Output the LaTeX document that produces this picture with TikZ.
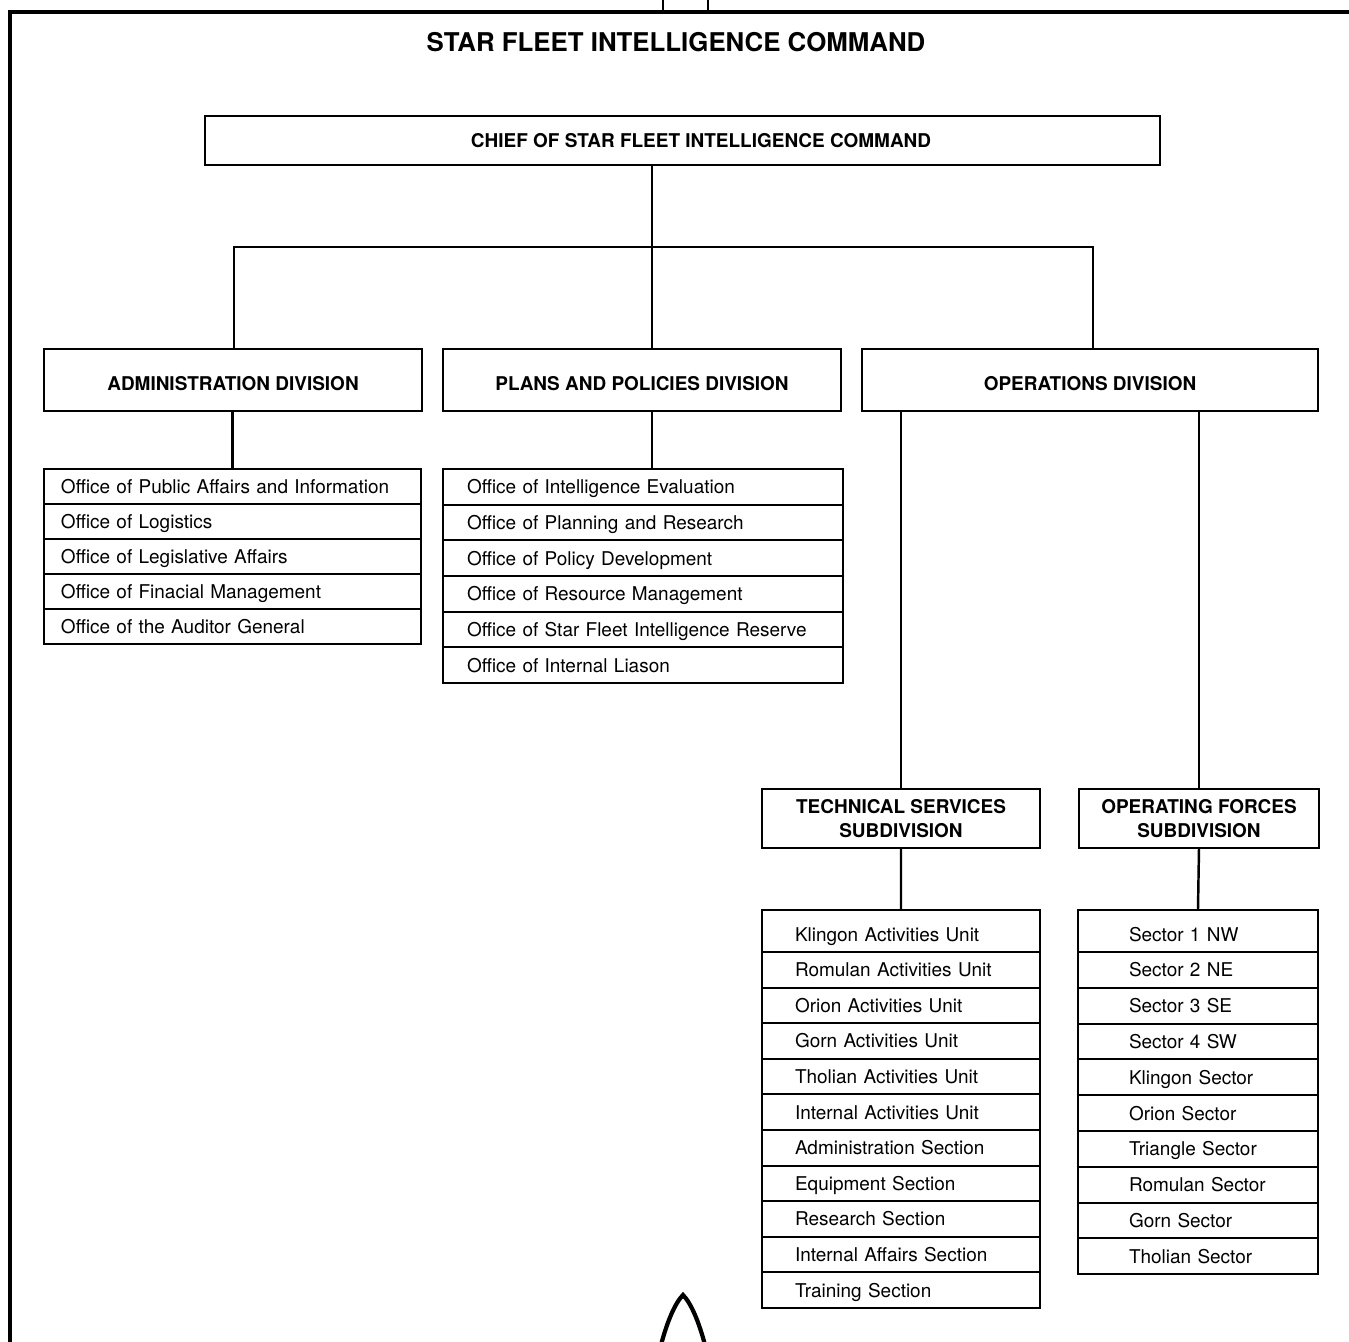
\documentclass[tikz,border=0pt]{standalone}
\usepackage{fontspec}
\setmainfont{TeX Gyre Heros}
\usetikzlibrary{positioning}
\newcommand{\corpo}{\fontsize{10.8}{13.6}\selectfont}
\newcommand{\titolo}{\fontsize{14.7}{17}\selectfont\bfseries}
\tikzset{
	% riquadro di divisione / sottodivisione
	divisione/.style={draw, line width=1.4pt, rectangle, minimum height=1.24cm, inner sep=0pt,
	                  outer sep=0pt, align=center, font=\corpo\bfseries},
	% testo di una sola riga, un poco piu' in basso
	unariga/.style={text height=12.4pt, text depth=0pt},
	% riga di un elenco (uffici, unita', settori)
	riga/.style={draw, line width=1.2pt, rectangle, anchor=north west, minimum height=0.7cm,
	             inner ysep=0pt, outer sep=0pt, text height=2.1ex, text depth=0.6ex, align=left,
	             font=\corpo},
	prima/.style={minimum height=0.84cm, text height=2.9ex},
	rigaamm/.style={riga, text width=6.86cm, inner xsep=0.34cm},
	rigapiani/.style={riga, text width=7.04cm, inner xsep=0.48cm, minimum height=0.7133cm},
	rigatecn/.style={riga, text width=4.24cm, inner xsep=0.66cm, minimum height=0.712cm},
	rigaforze/.style={riga, text width=2.76cm, inner xsep=1.02cm, minimum height=0.716cm},
	% collegamento
	filo/.style={line width=1.4pt},
	% cornice della tavola
	cornice/.style={line width=2.6pt},
}

\begin{document}
\begin{tikzpicture}[x=0.02cm, y=-0.02cm]
    \useasboundingbox (0,0) rectangle (1349,1342);

    % ---------------- cornice ----------------
    \draw[cornice] (10,1342) -- (10,12) -- (1349,12);
    \draw[line width=1.6pt] (663,0) -- (663,12) (708,0) -- (708,12);
    \draw[line width=2.4pt, line join=miter] (661,1345) .. controls (667,1322) and (675,1303) .. (683,1295)
        .. controls (691,1303) and (699,1322) .. (705,1345);

    % ---------------- vertice ----------------
    \node[font=\titolo] (titolo) at (676,42) {STAR FLEET INTELLIGENCE COMMAND};
    \node[divisione, minimum width=19.1cm, minimum height=0.98cm] (capo) at (682.5,140.5) {};
    \node[font=\corpo\bfseries] (capotesto) at (701,141) {CHIEF OF STAR FLEET INTELLIGENCE COMMAND};

    % ---------------- divisioni ----------------
    \node[divisione, unariga, minimum width=7.56cm] (amm) at (233,380) {ADMINISTRATION DIVISION};
    \node[divisione, unariga, minimum width=7.96cm] (piani) at (642,380) {PLANS AND POLICIES DIVISION};
    \node[divisione, unariga, minimum width=9.12cm] (oper) at (1090,380) {OPERATIONS DIVISION};

    \coordinate (busS) at (234,247);
    \coordinate (busC) at (652,247);
    \coordinate (busD) at (1093,247);
    \draw[filo] (capo.south -| busC) -- (busC);
    \draw[filo] (amm.north -| busS) -- (busS) -- (busD) -- (busD |- oper.north);
    \draw[filo] (busC) -- (busC |- piani.north);

    % ---------------- administration ----------------
    \node[rigaamm] (a1) at (44,469) {Office of Public Affairs and Information};
    \node[rigaamm] (a2) at (44,504) {Office of Logistics};
    \node[rigaamm] (a3) at (44,539) {Office of Legislative Affairs};
    \node[rigaamm] (a4) at (44,574) {Office of Finacial Management};
    \node[rigaamm] (a5) at (44,609) {Office of the Auditor General};
    \draw[filo] (amm.south -| a1.north) -- (a1.north);

    % ---------------- plans and policies ----------------
    \node[rigapiani] (p1) at (443,469) {Office of Intelligence Evaluation};
    \node[rigapiani] (p2) at (443,504.67) {Office of Planning and Research};
    \node[rigapiani] (p3) at (443,540.33) {Office of Policy Development};
    \node[rigapiani] (p4) at (443,576) {Office of Resource Management};
    \node[rigapiani] (p5) at (443,611.67) {Office of Star Fleet Intelligence Reserve};
    \node[rigapiani] (p6) at (443,647.33) {Office of Internal Liason};
    \draw[filo] (piani.south -| busC) -- (busC |- p1.north);

    % ---------------- operations: sottodivisioni ----------------
    \node[divisione, minimum width=5.56cm, minimum height=1.18cm] (tecn) at (901,818.5) {TECHNICAL SERVICES\\SUBDIVISION};
    \node[divisione, minimum width=4.8cm, minimum height=1.18cm] (forze) at (1199,818.5) {OPERATING FORCES\\SUBDIVISION};
    \draw[filo] (oper.south -| tecn.north) -- (tecn.north);
    \draw[filo] (oper.south -| forze.north) -- (forze.north);

    % ---------------- technical services ----------------
    \node[rigatecn, prima] (t1) at (762,910) {Klingon Activities Unit};
    \node[rigatecn] (t2) at (762,952) {Romulan Activities Unit};
    \node[rigatecn] (t3) at (762,987.6) {Orion Activities Unit};
    \node[rigatecn] (t4) at (762,1023.2) {Gorn Activities Unit};
    \node[rigatecn] (t5) at (762,1058.8) {Tholian Activities Unit};
    \node[rigatecn] (t6) at (762,1094.4) {Internal Activities Unit};
    \node[rigatecn] (t7) at (762,1130) {Administration Section};
    \node[rigatecn] (t8) at (762,1165.6) {Equipment Section};
    \node[rigatecn] (t9) at (762,1201.2) {Research Section};
    \node[rigatecn] (t10) at (762,1236.8) {Internal Affairs Section};
    \node[rigatecn] (t11) at (762,1272.4) {Training Section};
    \draw[filo] (tecn.south) -- (t1.north);

    % ---------------- operating forces ----------------
    \node[rigaforze, prima] (f1) at (1078,910) {Sector 1 NW};
    \node[rigaforze] (f2) at (1078,952) {Sector 2 NE};
    \node[rigaforze] (f3) at (1078,987.8) {Sector 3 SE};
    \node[rigaforze] (f4) at (1078,1023.6) {Sector 4 SW};
    \node[rigaforze] (f5) at (1078,1059.4) {Klingon Sector};
    \node[rigaforze] (f6) at (1078,1095.2) {Orion Sector};
    \node[rigaforze] (f7) at (1078,1131) {Triangle Sector};
    \node[rigaforze] (f8) at (1078,1166.8) {Romulan Sector};
    \node[rigaforze] (f9) at (1078,1202.6) {Gorn Sector};
    \node[rigaforze] (f10) at (1078,1238.4) {Tholian Sector};
    \draw[filo] (forze.south) -- (f1.north);
  \end{tikzpicture}
\end{document}
